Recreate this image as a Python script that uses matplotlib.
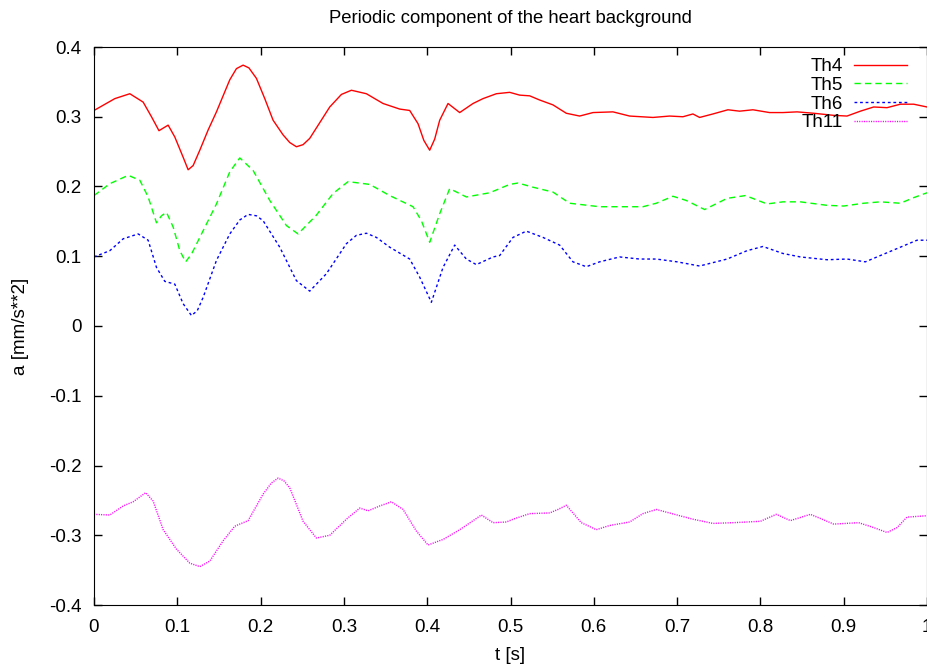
import numpy as np
import matplotlib as mpl
mpl.use('Agg')
import matplotlib.pyplot as plt
from matplotlib.ticker import MultipleLocator, FormatStrFormatter

mpl.rcParams['font.family'] = 'Liberation Sans'
mpl.rcParams['axes.unicode_minus'] = False

# Th4
t4 = [0.0, 0.025, 0.043, 0.059, 0.069, 0.078, 0.089, 0.097, 0.107, 0.113, 0.119, 0.127,
      0.137, 0.147, 0.163, 0.171, 0.179, 0.186, 0.195, 0.205, 0.215, 0.227, 0.235, 0.243,
      0.251, 0.259, 0.283, 0.297, 0.309, 0.327, 0.347, 0.367, 0.379, 0.389, 0.396, 0.403,
      0.409, 0.415, 0.425, 0.439, 0.455, 0.467, 0.483, 0.499, 0.511, 0.523, 0.535, 0.551,
      0.567, 0.583, 0.599, 0.623, 0.643, 0.671, 0.691, 0.707, 0.719, 0.727, 0.743, 0.761,
      0.775, 0.791, 0.811, 0.827, 0.844, 0.864, 0.888, 0.904, 0.920, 0.936, 0.952, 0.968,
      0.984, 1.0]
a4 = [0.309, 0.326, 0.333, 0.321, 0.300, 0.280, 0.288, 0.271, 0.242, 0.224, 0.230, 0.252,
      0.281, 0.307, 0.353, 0.369, 0.374, 0.370, 0.355, 0.326, 0.295, 0.274, 0.263, 0.257,
      0.260, 0.269, 0.314, 0.332, 0.338, 0.333, 0.319, 0.311, 0.309, 0.290, 0.266, 0.252,
      0.268, 0.295, 0.319, 0.306, 0.319, 0.326, 0.333, 0.335, 0.331, 0.330, 0.324, 0.317,
      0.305, 0.301, 0.306, 0.307, 0.301, 0.299, 0.301, 0.300, 0.304, 0.299, 0.304, 0.310,
      0.308, 0.310, 0.306, 0.306, 0.307, 0.305, 0.302, 0.301, 0.308, 0.314, 0.313, 0.318,
      0.318, 0.314]

# Th5
t5 = [0.0, 0.019, 0.041, 0.055, 0.065, 0.075, 0.081, 0.087, 0.095, 0.103, 0.110, 0.117,
      0.127, 0.147, 0.163, 0.175, 0.191, 0.211, 0.231, 0.245, 0.267, 0.287, 0.305, 0.331,
      0.355, 0.383, 0.393, 0.403, 0.415, 0.427, 0.447, 0.475, 0.499, 0.509, 0.527, 0.551,
      0.571, 0.607, 0.659, 0.675, 0.695, 0.711, 0.733, 0.760, 0.782, 0.808, 0.827, 0.848,
      0.880, 0.900, 0.924, 0.944, 0.968, 0.984, 1.0]
a5 = [0.187, 0.204, 0.216, 0.209, 0.185, 0.148, 0.158, 0.163, 0.142, 0.108, 0.092, 0.103,
      0.127, 0.175, 0.221, 0.241, 0.223, 0.180, 0.144, 0.132, 0.159, 0.190, 0.207, 0.203,
      0.187, 0.171, 0.151, 0.120, 0.161, 0.197, 0.185, 0.191, 0.203, 0.205, 0.199, 0.192,
      0.176, 0.171, 0.171, 0.176, 0.186, 0.180, 0.167, 0.183, 0.187, 0.175, 0.178, 0.178,
      0.173, 0.172, 0.176, 0.178, 0.176, 0.184, 0.191]

# Th6
t6 = [0.0, 0.019, 0.035, 0.053, 0.065, 0.075, 0.085, 0.097, 0.107, 0.117, 0.124, 0.131,
      0.147, 0.163, 0.175, 0.185, 0.195, 0.203, 0.223, 0.243, 0.259, 0.279, 0.303, 0.315,
      0.327, 0.339, 0.355, 0.379, 0.391, 0.405, 0.419, 0.433, 0.447, 0.459, 0.479, 0.487,
      0.503, 0.519, 0.539, 0.559, 0.575, 0.591, 0.607, 0.631, 0.655, 0.675, 0.700, 0.727,
      0.760, 0.784, 0.803, 0.827, 0.848, 0.880, 0.904, 0.926, 0.944, 0.968, 0.988, 1.0]
a6 = [0.099, 0.108, 0.125, 0.132, 0.123, 0.084, 0.064, 0.060, 0.032, 0.015, 0.022, 0.041,
      0.094, 0.132, 0.152, 0.160, 0.158, 0.151, 0.113, 0.065, 0.050, 0.075, 0.118, 0.130,
      0.133, 0.127, 0.113, 0.096, 0.070, 0.034, 0.084, 0.116, 0.096, 0.088, 0.099, 0.101,
      0.127, 0.136, 0.127, 0.116, 0.092, 0.085, 0.092, 0.099, 0.096, 0.096, 0.092, 0.086,
      0.096, 0.108, 0.114, 0.104, 0.099, 0.095, 0.096, 0.092, 0.101, 0.113, 0.123, 0.123]

# Th11
t11 = [0.0, 0.019, 0.035, 0.047, 0.062, 0.071, 0.083, 0.099, 0.115, 0.127, 0.139, 0.155,
       0.169, 0.185, 0.203, 0.213, 0.221, 0.228, 0.235, 0.251, 0.267, 0.283, 0.303, 0.319,
       0.329, 0.343, 0.357, 0.371, 0.387, 0.401, 0.419, 0.439, 0.465, 0.479, 0.495, 0.503,
       0.523, 0.547, 0.557, 0.567, 0.585, 0.603, 0.619, 0.643, 0.659, 0.675, 0.700, 0.719,
       0.743, 0.767, 0.800, 0.819, 0.836, 0.860, 0.888, 0.918, 0.936, 0.952, 0.964, 0.976,
       1.0]
a11 = [-0.270, -0.271, -0.258, -0.252, -0.239, -0.251, -0.292, -0.320, -0.340, -0.345,
       -0.337, -0.308, -0.287, -0.279, -0.241, -0.225, -0.218, -0.222, -0.232, -0.280,
       -0.304, -0.300, -0.277, -0.261, -0.265, -0.258, -0.252, -0.263, -0.294, -0.314,
       -0.306, -0.292, -0.271, -0.282, -0.281, -0.277, -0.269, -0.268, -0.263, -0.257,
       -0.282, -0.292, -0.286, -0.281, -0.269, -0.263, -0.271, -0.277, -0.283, -0.282,
       -0.280, -0.270, -0.279, -0.270, -0.284, -0.282, -0.289, -0.296, -0.289, -0.274,
       -0.272]

fig = plt.figure(figsize=(9.28, 6.64), dpi=100)
ax = fig.add_axes([94/928., 1-605/664., 833/928., 558/664.])

ax.plot(t4, a4, color='#ff0000', lw=1.0, label='Th4')
ax.plot(t5, a5, color='#00ff00', lw=1.0, ls=(0, (4.5, 3)), label='Th5')
ax.plot(t6, a6, color='#0000ff', lw=1.0, ls=(0, (2, 2)), label='Th6')
ax.plot(t11, a11, color='#ff00ff', lw=1.0, ls=(0, (0.8, 0.9)), label='Th11')

ax.set_xlim(0, 1)
ax.set_ylim(-0.4, 0.4)
ax.xaxis.set_major_locator(MultipleLocator(0.1))
ax.yaxis.set_major_locator(MultipleLocator(0.1))
ax.xaxis.set_major_formatter(FormatStrFormatter('%g'))
ax.yaxis.set_major_formatter(FormatStrFormatter('%g'))
ax.tick_params(direction='in', length=6, width=1, top=True, right=True, labelsize=13.5)
ax.tick_params(axis='x', pad=10)
ax.tick_params(axis='y', pad=9)

ax.set_title('Periodic component of the heart background', fontsize=13.3, pad=17)
ax.set_xlabel('t [s]', fontsize=13.5, va='top')
ax.xaxis.set_label_coords(0.5, -0.075)
ax.set_ylabel('a [mm/s**2]', fontsize=13.5)
ax.yaxis.set_label_coords(-0.078, 0.5)

ax.legend(loc='upper right', bbox_to_anchor=(0.976, 0.98), frameon=False, markerfirst=False,
          fontsize=13.5, handlelength=2.85, handletextpad=0.55, labelspacing=0.08,
          borderpad=0, borderaxespad=0)

plt.savefig('out.png', dpi=100)
